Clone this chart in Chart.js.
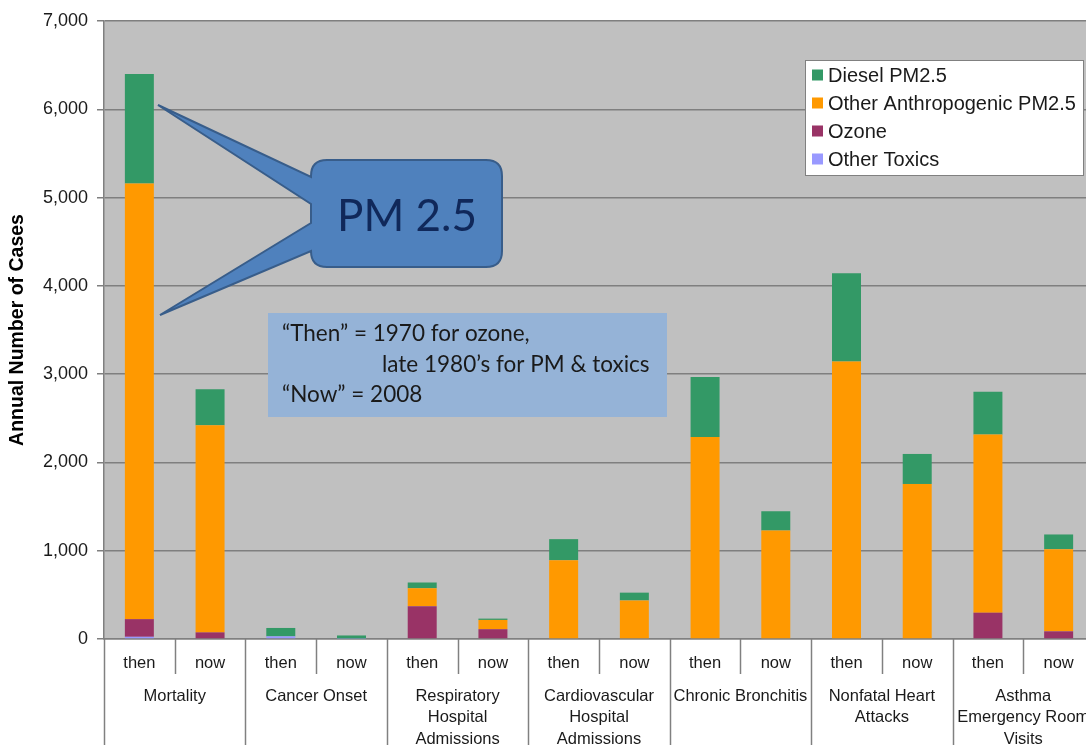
<!DOCTYPE html>
<html>
<head>
<meta charset="utf-8">
<script src="https://cdn.jsdelivr.net/npm/chart.js@4.4.1/dist/chart.umd.min.js"></script>
<style>
    html, body { margin: 0; padding: 0; background: #ffffff; overflow: hidden; }
    #wrap { width: 1100px; height: 745px; }
</style>
</head>
<body>
<div id="wrap"><canvas id="casesChart" width="1100" height="745"></canvas></div>
<script>
// categories
const groupLabels = [
    ["Mortality"],
    ["Cancer Onset"],
    ["Respiratory", "Hospital", "Admissions"],
    ["Cardiovascular", "Hospital", "Admissions"],
    ["Chronic Bronchitis"],
    ["Nonfatal Heart", "Attacks"],
    ["Asthma", "Emergency Room", "Visits"]
];
const periodLabels = ["then", "now", "then", "now", "then", "now", "then", "now", "then", "now", "then", "now", "then", "now"];

// series values
const otherToxics = [25, 0, 30, 5, 0, 0, 0, 0, 0, 0, 0, 0, 0, 0];
const ozone = [200, 75, 0, 0, 372, 111, 0, 0, 0, 0, 0, 0, 298, 87];
const otherPM = [4935, 2345, 0, 0, 203, 105, 893, 437, 2287, 1229, 3144, 1756, 2019, 931];
const dieselPM = [1240, 410, 95, 35, 65, 15, 238, 88, 680, 218, 1000, 340, 483, 166];

// y ticks
const yTicks = [0, 1000, 2000, 3000, 4000, 5000, 6000, 7000];

const seriesNames = ["Other Toxics", "Ozone", "Other Anthropogenic PM2.5", "Diesel PM2.5"];
const seriesColors = ["#9999FF", "#993366", "#FF9900", "#339966"];

const noteLines = ["\u201CThen\u201D = 1970 for ozone,", "late 1980\u2019s for PM & toxics", "\u201CNow\u201D = 2008"];
const calloutText = "PM 2.5";

const fontSans = "'Liberation Sans', Arial, sans-serif";
const fontNote = "Lato, 'Open Sans', sans-serif";

const extrasPlugin = {
    id: 'extras',
    beforeDraw(chart) {
        const { ctx, chartArea } = chart;
        ctx.save();
        ctx.fillStyle = '#ffffff';
        ctx.fillRect(0, 0, chart.width, chart.height);
        ctx.fillStyle = '#c0c0c0';
        ctx.fillRect(chartArea.left, chartArea.top, chartArea.right - chartArea.left, chartArea.bottom - chartArea.top);
        ctx.restore();
    },
    afterDraw(chart) {
        const { ctx, chartArea } = chart;
        const xs = chart.scales.x;
        const half = (xs.getPixelForValue(1) - xs.getPixelForValue(0)) / 2;
        ctx.save();

        // separators below the axis
        ctx.strokeStyle = '#808080';
        ctx.lineWidth = 1.5;
        for (let i = 0; i <= periodLabels.length; i++) {
            const x = Math.round(xs.getPixelForValue(0) - half + i * 2 * half) + 0.5;
            ctx.beginPath();
            ctx.moveTo(x, chartArea.bottom);
            ctx.lineTo(x, i % 2 === 0 ? chart.height : chartArea.bottom + 35);
            ctx.stroke();
        }

        // group labels
        ctx.fillStyle = '#1a1a1a';
        ctx.font = '16.5px ' + fontSans;
        ctx.textAlign = 'center';
        ctx.textBaseline = 'middle';
        groupLabels.forEach((lines, i) => {
            const cx = (xs.getPixelForValue(2 * i) + xs.getPixelForValue(2 * i + 1)) / 2;
            lines.forEach((line, j) => {
                ctx.fillText(line, cx, 696 + j * 21.5);
            });
        });

        // y title
        ctx.save();
        ctx.translate(18, (chartArea.top + chartArea.bottom) / 2);
        ctx.rotate(-Math.PI / 2);
        ctx.font = 'bold 19.5px ' + fontSans;
        ctx.fillStyle = '#000000';
        ctx.fillText('Annual Number of Cases', 0, 0);
        ctx.restore();

        // callout
        const bx = 311, by = 160, bw = 191, bh = 107, r = 16;
        ctx.beginPath();
        ctx.moveTo(bx + r, by);
        ctx.lineTo(bx + bw - r, by);
        ctx.quadraticCurveTo(bx + bw, by, bx + bw, by + r);
        ctx.lineTo(bx + bw, by + bh - r);
        ctx.quadraticCurveTo(bx + bw, by + bh, bx + bw - r, by + bh);
        ctx.lineTo(bx + r, by + bh);
        ctx.quadraticCurveTo(bx, by + bh, bx, by + bh - r);
        ctx.lineTo(bx, 251);
        ctx.lineTo(160, 315);
        ctx.lineTo(bx, 223);
        ctx.lineTo(bx, 204);
        ctx.lineTo(158, 105);
        ctx.lineTo(bx, 177);
        ctx.lineTo(bx, by + r);
        ctx.quadraticCurveTo(bx, by, bx + r, by);
        ctx.closePath();
        ctx.fillStyle = '#4F81BD';
        ctx.fill();
        ctx.strokeStyle = '#385D8A';
        ctx.lineWidth = 2;
        ctx.stroke();
        ctx.fillStyle = '#10285A';
        ctx.font = '44px ' + fontNote;
        ctx.textAlign = 'center';
        ctx.fillText(calloutText, 407, 217);

        // note box
        ctx.fillStyle = '#95B3D7';
        ctx.fillRect(268, 313, 399, 104);
        ctx.fillStyle = '#1a1a1a';
        ctx.font = '22.5px ' + fontNote;
        ctx.textAlign = 'left';
        ctx.fillText(noteLines[0], 282, 334);
        ctx.fillText(noteLines[1], 382, 365);
        ctx.fillText(noteLines[2], 282, 395);

        // legend (top of stack first)
        ctx.fillStyle = '#ffffff';
        ctx.fillRect(805, 60, 278, 115);
        ctx.strokeStyle = '#808080';
        ctx.lineWidth = 1;
        ctx.strokeRect(805.5, 60.5, 278, 115);
        ctx.font = '20px ' + fontSans;
        for (let k = 0; k < 4; k++) {
            const ds = chart.data.datasets[3 - k];
            const yy = 75 + k * 28;
            ctx.fillStyle = ds.backgroundColor;
            ctx.fillRect(812, yy - 5.5, 11, 11);
            ctx.fillStyle = '#1a1a1a';
            ctx.fillText(ds.label, 828, yy + 1);
        }
        ctx.restore();
    }
};

const casesChartConfig = {
    type: 'bar',
    data: {
        labels: periodLabels,
        datasets: [otherToxics, ozone, otherPM, dieselPM].map((vals, i) => ({
            label: seriesNames[i],
            data: vals,
            backgroundColor: seriesColors[i],
            borderWidth: 0,
            barPercentage: 0.41,
            categoryPercentage: 1.0
        }))
    },
    options: {
        responsive: false,
        animation: false,
        layout: { padding: { top: 21, right: 6, left: 0, bottom: 0 } },
        plugins: {
            legend: { display: false },
            tooltip: { enabled: false },
            title: { display: false }
        },
        scales: {
            x: {
                stacked: true,
                grid: { display: false, drawTicks: false },
                border: { display: true, color: '#808080', width: 1.5 },
                ticks: {
                    color: '#1a1a1a',
                    font: { family: fontSans, size: 16.5 },
                    padding: 15,
                    maxRotation: 0,
                    autoSkip: false
                },
                afterFit(scale) { scale.height = 106; }
            },
            y: {
                stacked: true,
                min: 0,
                max: 7000,
                afterBuildTicks(scale) { scale.ticks = yTicks.map(v => ({ value: v })); },
                grid: { color: '#7f7f7f', lineWidth: 1.5, tickLength: 7 },
                border: { display: true, color: '#808080', width: 1.5 },
                ticks: {
                    color: '#1a1a1a',
                    font: { family: fontSans, size: 18 },
                    padding: 9,
                    callback: v => v.toLocaleString('en-US')
                },
                afterFit(scale) { scale.width = 104; }
            }
        }
    },
    plugins: [extrasPlugin]
};

new Chart(document.getElementById('casesChart').getContext('2d'), casesChartConfig);
</script>
</body>
</html>
